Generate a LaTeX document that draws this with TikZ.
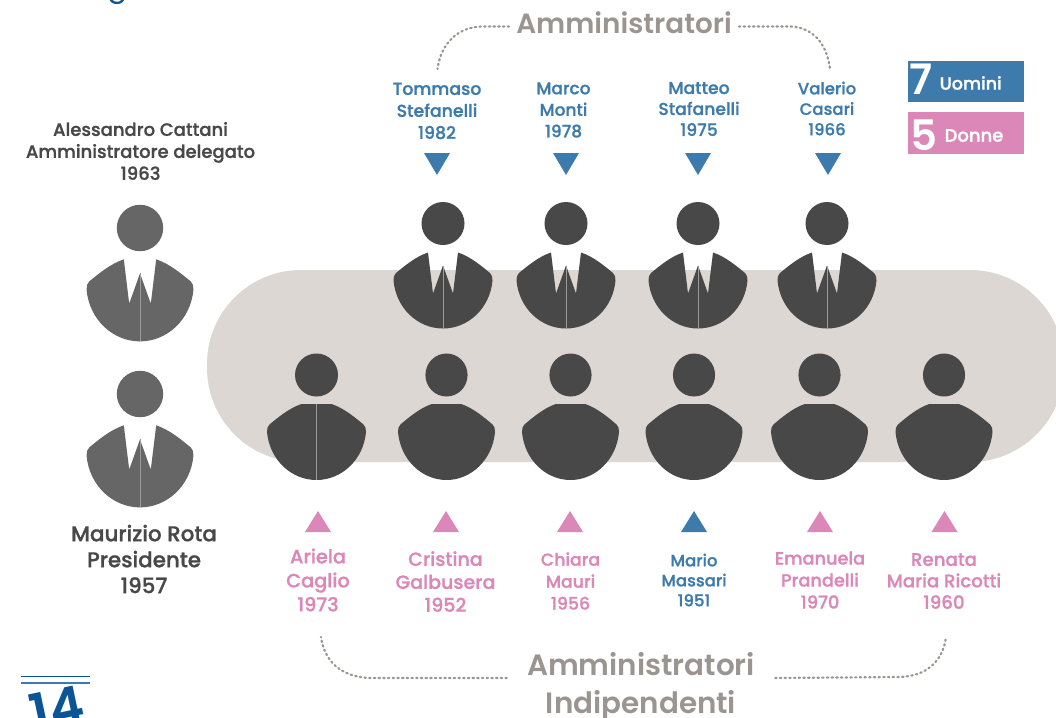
\documentclass[tikz,border=0pt]{standalone}
\usepackage{fontspec}
\setmainfont{Poppins}[BoldFont={Poppins Medium},BoldFeatures={FakeBold=1}]
\newfontfamily\heavyfont{Poppins SemiBold}
\definecolor{blueM}{HTML}{3E7BAD}
\definecolor{pinkF}{HTML}{DB87B7}
\definecolor{tableC}{HTML}{DCD7D2}
\definecolor{darkP}{HTML}{484848}
\definecolor{midP}{HTML}{666666}
\definecolor{greyT}{HTML}{9A9590}
\definecolor{navyT}{HTML}{0B5596}
\tikzset{
  person/.pic={
    \fill (0,0) circle (21.5);
    \fill (-15,29) .. controls (-27,33) and (-38,42) .. (-47,49.5)
      .. controls (-49,51) and (-49.5,54) .. (-49.5,57)
      .. controls (-47,85) and (-25,105) .. (0,105)
      .. controls (25,105) and (47,85) .. (49.5,57)
      .. controls (49.5,54) and (49,51) .. (47,49.5)
      .. controls (38,42) and (27,33) .. (15,29)
      -- (10,70) -- (0,42) -- (-10,70) -- cycle;
    \draw[seam] (0,42) -- (0,105);
  },
  member/.pic={
    \fill (0,0) circle (21.5);
    \fill (-15,29) .. controls (-27,33) and (-38,42) .. (-47,49.5)
      .. controls (-49,51) and (-49.5,54) .. (-49.5,57)
      .. controls (-47,85) and (-25,105) .. (0,105)
      .. controls (25,105) and (47,85) .. (49.5,57)
      .. controls (49.5,54) and (49,51) .. (47,49.5)
      .. controls (38,42) and (27,33) .. (15,29) -- cycle;
  },
  seam/.style={color=white!45!darkP,line width=.7pt},
  bracket/.style={color=greyT,line width=2.2pt,line cap=round,dash pattern=on 1.4pt off 3.3pt},
  fs/.style 2 args={font=\bfseries\fontsize{#1}{#2}\selectfont},
  hs/.style 2 args={font=\heavyfont\fontsize{#1}{#2}\selectfont},
  blabel/.style={align=center,text=blueM},
  plabel/.style={align=center,text=pinkF},
  dlabel/.style={align=center,text=darkP},
  headline/.style={text=greyT,align=center,inner ysep=6pt},
  legendbox/.style={minimum width=116pt,inner sep=0pt,anchor=north west},
  legendtext/.style={text=white,inner sep=0pt}
}
\begin{document}
\begin{tikzpicture}[x=1pt,y=-1pt]
  \useasboundingbox (0,0) rectangle (1056,717);
  \fill[tableC,rounded corners=94pt] (207,270) rectangle (1064,462);

  % people
  \foreach \px in {443,566,698,827}
    \path (\px,223.5) pic[fill=darkP] {person};
  \path (316.5,375) pic[fill=darkP] {member};
  \draw[seam] (316.5,404) -- (316.5,480);
  \foreach \px in {446.5,570.5,694,819.5,944}
    \path (\px,375) pic[fill=darkP,xscale=.98] {member};
  \path (140,228) pic[fill=midP,scale=1.08] {person};
  \path (140,394) pic[fill=midP,scale=1.08] {person};

  % triangles
  \foreach \px in {437,566,698,828}
    \fill[blueM] (\px-13,153) -- (\px+13,153) -- (\px,175) -- cycle;
  \foreach \px in {318,446,570,820,944.5}
    \fill[pinkF] (\px-13,532) -- (\px+13,532) -- (\px,511) -- cycle;
  \fill[blueM] (694-13,532) -- (694+13,532) -- (694,511) -- cycle;

  % names
  \node[blabel,fs={17.3}{22}] (tommaso) at (437,111) {Tommaso\\Stefanelli\\1982};
  \node[blabel,fs={17}{21.5}] (marco) at (563.5,110) {Marco\\Monti\\1978};
  \node[blabel,fs={17.2}{21}] (matteo) at (699,109) {Matteo\\Stafanelli\\1975};
  \node[blabel,fs={16.5}{20.5}] (valerio) at (827,108.5) {Valerio\\Casari\\1966};
  \node[plabel,fs={19.3}{24}] (ariela) at (318,580) {Ariela\\Caglio\\1973};
  \node[plabel,fs={19}{23}] (cristina) at (445.5,581.5) {Cristina\\Galbusera\\1952};
  \node[plabel,fs={17.3}{22}] (chiara) at (570.5,581) {Chiara\\Mauri\\1956};
  \node[blabel,fs={16.5}{20}] (mario) at (694,580) {Mario\\Massari\\1951};
  \node[plabel,fs={17.7}{22}] (emanuela) at (820,580) {Emanuela\\Prandelli\\1970};
  \node[plabel,fs={18.2}{21.5}] (renata) at (944,581) {Renata\\Maria Ricotti\\1960};
  \node[dlabel,fs={18}{22}] (cattani) at (140.5,151)
    {Alessandro Cattani\\Amministratore delegato\\1963};
  \node[dlabel,fs={21.4}{26}] (rota) at (144,559)
    {Maurizio Rota\\Presidente\\1957};

  % brackets
  \node[headline,hs={27.8}{38},inner xsep=7pt] (adminT) at (624,23) {Amministratori};
  \node[headline,hs={29.4}{38},inner xsep=20pt] (adminB) at (641,687) {Amministratori\\Indipendenti};
  \coordinate (topL) at (437.5,69);
  \coordinate (topR) at (830,69);
  \coordinate (botL) at (321,637);
  \coordinate (botR) at (946,637);
  \draw[bracket] ([yshift=-3.5pt]adminT.west) -- (482,26.5) .. controls (458,27) and (441,43) .. (topL);
  \draw[bracket] ([yshift=-3.5pt]adminT.east) -- (790,26.5) .. controls (812,27) and (827,43) .. (topR);
  \draw[bracket] ([yshift=9pt]adminB.west) -- (370,678) .. controls (340,677) and (324,660) .. (botL);
  \draw[bracket] ([yshift=9pt]adminB.east) -- (900,677) .. controls (928,676) and (943,660) .. (botR);

  % legend
  \node[legendbox,fill=blueM,minimum height=41pt] (uomini) at (908,61) {};
  \node[legendbox,fill=pinkF,minimum height=42pt] (donne) at (908,112) {};
  \node[legendtext,hs={42}{42}] (seven) at (921,79) {7};
  \node[legendtext,fs={17.5}{18}] (uominiT) at (970.7,83) {Uomini};
  \node[legendtext,hs={42}{42}] (five) at (924.5,135) {5};
  \node[legendtext,fs={18}{18}] (donneT) at (974,135.5) {Donne};

  % page furniture
  \node[text=navyT,font=\fontsize{30}{30}\selectfont,inner sep=0pt,anchor=base] (title) at (118,-3) {g};
  \fill[navyT] (21,675.5) rectangle (90,677);
  \fill[blueM] (21,682) rectangle (90,684);
  \node[text=navyT,hs={52}{52},inner sep=0pt,rotate=12,anchor=base] (page) at (61,727) {14};
\end{tikzpicture}
\end{document}
